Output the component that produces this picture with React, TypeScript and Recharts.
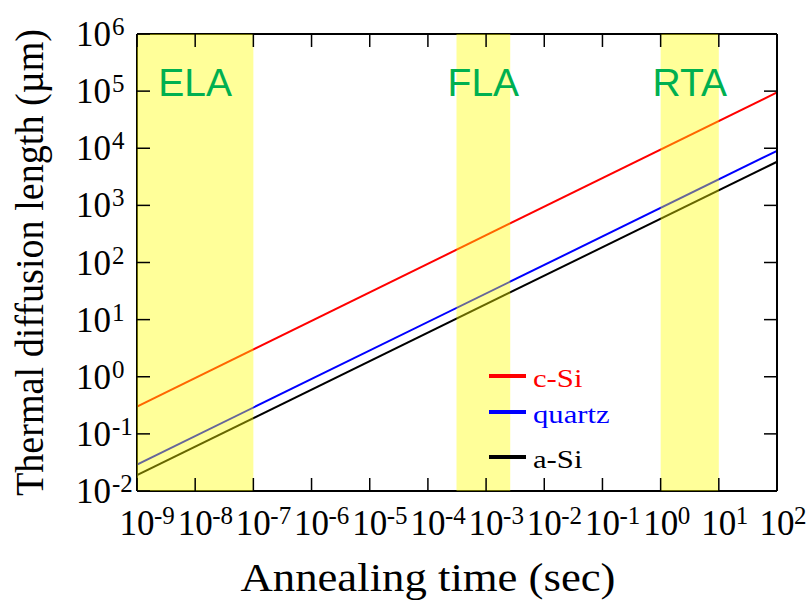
import React from 'react';
import {
  LineChart,
  Line,
  XAxis,
  YAxis,
  ReferenceArea,
  ReferenceLine,
  Legend,
  Label,
} from 'recharts';

// annealing time (sec) and diffusion length (um) at both ends of each line
const times = [1e-9, 1e2];
const cSiLength = [0.3, 9.5e4];
const quartzLength = [0.029, 9.0e3];
const aSiLength = [0.019, 5.8e3];

const xTicks = [1e-9, 1e-8, 1e-7, 1e-6, 1e-5, 1e-4, 1e-3, 1e-2, 1e-1, 1e0, 1e1, 1e2];
const yTicks = [1e-2, 1e-1, 1e0, 1e1, 1e2, 1e3, 1e4, 1e5, 1e6];
const xDomain = [1e-9, 1e2];
const yDomain = [1e-2, 1e6];

// annealing process windows
const processNames = ['ELA', 'FLA', 'RTA'];
const processStart = [1e-9, 3.1e-4, 1];
const processEnd = [1e-7, 2.6e-3, 10];

const series = [
  { key: 'cSi', name: 'c-Si', color: '#ff0000' },
  { key: 'quartz', name: 'quartz', color: '#0000ff' },
  { key: 'aSi', name: 'a-Si', color: '#000000' },
];

const data = times.map((t, i) => ({
  t,
  cSi: cSiLength[i],
  quartz: quartzLength[i],
  aSi: aSiLength[i],
}));

const SERIF = "Liberation Serif, Times New Roman, serif";
const SANS = "Liberation Sans, Arial, sans-serif";
const TICK_LEN = 13;

const exponent = (v: number) => Math.round(Math.log10(v));

const BottomTick = ({ x, y, payload }: any) => (
  <g>
    <line x1={x} y1={y} x2={x} y2={y - TICK_LEN} stroke="#000" strokeWidth={1.5} />
    <text x={x} y={y + 44} textAnchor="middle" fontFamily={SERIF} fontSize={35} fill="#000">
      10
    </text>
    <text x={x + 17} y={y + 33} fontFamily={SERIF} fontSize={25} fill="#000">
      {exponent(payload.value)}
    </text>
  </g>
);

const LeftTick = ({ x, y, payload }: any) => (
  <g>
    <line x1={x} y1={y} x2={x + TICK_LEN} y2={y} stroke="#000" strokeWidth={1.5} />
    <text x={x - 26} y={y + 12} textAnchor="end" fontFamily={SERIF} fontSize={35} fill="#000">
      10
    </text>
    <text x={x - 25} y={y + 1} fontFamily={SERIF} fontSize={25} fill="#000">
      {exponent(payload.value)}
    </text>
  </g>
);

const TopTick = ({ x, y }: any) => (
  <line x1={x} y1={y} x2={x} y2={y + TICK_LEN} stroke="#000" strokeWidth={1.5} />
);

const RightTick = ({ x, y }: any) => (
  <line x1={x} y1={y} x2={x - TICK_LEN} y2={y} stroke="#000" strokeWidth={1.5} />
);

const legendRows = [16, 52, 97];

const renderLegend = () => (
  <svg width={140} height={115} style={{ display: 'block' }}>
    {series.map((s, i) => (
      <g key={s.key}>
        <line x1={4} x2={41} y1={legendRows[i]} y2={legendRows[i]} stroke={s.color} strokeWidth={4} />
        <text
          transform={`translate(48, ${legendRows[i] + 10.5}) scale(1.18, 1)`}
          fontFamily={SERIF}
          fontSize={26}
          fill={s.color}
        >
          {s.name}
        </text>
      </g>
    ))}
  </svg>
);

export default function App() {
  return (
    <div style={{ position: 'absolute', left: 0, top: 0, width: 810, height: 607, background: '#fff' }}>
      <LineChart width={810} height={607} data={data} margin={{ top: 33, right: 32, bottom: 0, left: 0 }}>
        <XAxis
          dataKey="t"
          type="number"
          scale="log"
          domain={xDomain}
          ticks={xTicks}
          interval={0}
          allowDataOverflow
          height={116}
          tickSize={0}
          tickMargin={0}
          tick={<BottomTick />}
          axisLine={{ stroke: '#000', strokeWidth: 2 }}
        >
          <Label
            content={() => (
              <text
                x={428}
                y={591}
                textAnchor="middle"
                fontFamily={SERIF}
                fontSize={40}
                textLength={375}
                lengthAdjust="spacingAndGlyphs"
                fill="#000"
              >
                Annealing time (sec)
              </text>
            )}
          />
        </XAxis>
        <XAxis
          xAxisId="top"
          orientation="top"
          dataKey="t"
          type="number"
          scale="log"
          domain={xDomain}
          ticks={xTicks}
          interval={0}
          allowDataOverflow
          height={1}
          tickSize={0}
          tickMargin={0}
          tick={<TopTick />}
          axisLine={false}
        />
        <YAxis
          type="number"
          scale="log"
          domain={yDomain}
          ticks={yTicks}
          interval={0}
          allowDataOverflow
          width={137}
          tickSize={0}
          tickMargin={0}
          tick={<LeftTick />}
          axisLine={{ stroke: '#000', strokeWidth: 2 }}
        >
          <Label
            content={({ viewBox }: any) => {
              const cy = viewBox.y + viewBox.height / 2;
              return (
                <text
                  x={43}
                  y={cy}
                  transform={`rotate(-90, 43, ${cy})`}
                  textAnchor="middle"
                  fontFamily={SERIF}
                  fontSize={40}
                  textLength={467}
                  lengthAdjust="spacingAndGlyphs"
                  fill="#000"
                >
                  Thermal diffusion length (µm)
                </text>
              );
            }}
          />
        </YAxis>
        <YAxis
          yAxisId="right"
          orientation="right"
          type="number"
          scale="log"
          domain={yDomain}
          ticks={yTicks}
          interval={0}
          allowDataOverflow
          width={1}
          tickSize={0}
          tickMargin={0}
          tick={<RightTick />}
          axisLine={false}
        />

        {/* top and right edges of the frame */}
        <ReferenceLine x={xDomain[1]} stroke="#000" strokeWidth={2} ifOverflow="visible" zIndex={550} />
        <ReferenceLine y={yDomain[1]} stroke="#000" strokeWidth={2} ifOverflow="visible" zIndex={550} />

        {series.map((s) => (
          <Line
            key={s.key}
            dataKey={s.key}
            name={s.name}
            type="linear"
            stroke={s.color}
            strokeWidth={2}
            dot={false}
            activeDot={false}
            isAnimationActive={false}
          />
        ))}

        {processNames.map((name, i) => (
          <ReferenceArea
            key={name}
            x1={processStart[i]}
            x2={processEnd[i]}
            y1={yDomain[0]}
            y2={yDomain[1]}
            fill="#ffff00"
            fillOpacity={0.4}
            stroke="none"
            zIndex={650}
            label={{
              content: ({ viewBox }: any) => (
                <text
                  x={viewBox.x + viewBox.width / 2}
                  y={96}
                  textAnchor="middle"
                  fontFamily={SANS}
                  fontSize={39}
                  fill="#00b050"
                >
                  {name}
                </text>
              ),
            }}
          />
        ))}

        <Legend
          layout="horizontal"
          verticalAlign="middle"
          align="center"
          content={renderLegend}
          wrapperStyle={{ left: 485, top: 360, width: 140, height: 115 }}
        />
      </LineChart>
    </div>
  );
}
